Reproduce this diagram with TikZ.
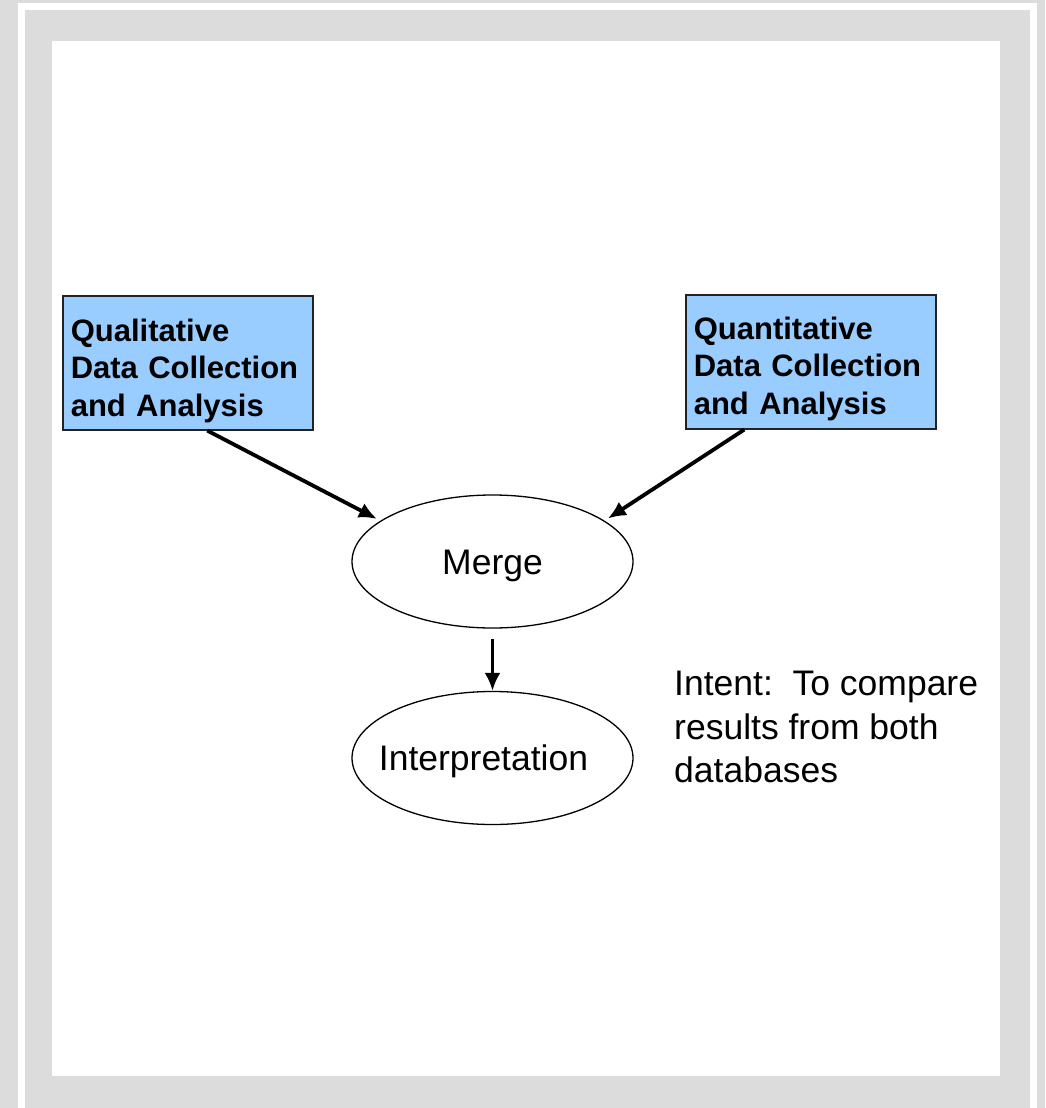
\documentclass[tikz,border=0pt]{standalone}
\usepackage{fontspec}
\setmainfont{Liberation Sans}
\usetikzlibrary{arrows.meta,shapes.geometric}
\definecolor{framegray}{HTML}{DCDCDC}
\definecolor{boxblue}{HTML}{99CCFF}
\definecolor{boxline}{HTML}{222222}
\tikzset{
  databox/.style={draw=boxline, line width=1.6pt, fill=boxblue, rectangle,
    anchor=north west, minimum width=250pt, minimum height=134pt,
    text width=234pt, inner xsep=8pt, inner ysep=0pt, align=left,
    font=\fontsize{31}{37.5}\selectfont\bfseries},
  oval/.style={draw=black, line width=1.3pt, ellipse, minimum width=281pt,
    minimum height=133pt, inner sep=0pt, text height=28pt, text depth=3pt,
    font=\fontsize{35.5}{43.5}\selectfont},
  flow/.style={line width=3.8pt, -{Latex[length=18pt,width=16pt]}},
  note/.style={anchor=north west, inner sep=0pt, align=left,
    font=\fontsize{35.5}{43.5}\selectfont}
}
\begin{document}
\begin{tikzpicture}[x=1pt,y=-1pt]
\useasboundingbox (0,0) rectangle (1045,1108);
\fill[framegray] (0,0) rectangle (1045,1108);
\draw[white, line width=7pt] (21.5,6.5) rectangle (1033.5,1130);
\fill[white] (52,41) rectangle (1000,1076);

\node[databox] (qual) at (62,295) {\rule{0pt}{38pt}Qualitative\\Data Collection\\and Analysis};
\node[databox] (quant) at (685,294) {\rule{0pt}{36pt}Quantitative\\Data Collection\\and Analysis};

\node[oval] (merge) at (492.5,561.5) {\makebox[0pt]{Merge}};
\node[oval] (interp) at (492.5,758) {\makebox[0pt]{\kern-18pt Interpretation}};

\node[note] (intent) at (674,671) {Intent:\ \ To compare\\results from both\\databases};

\draw[flow, shorten >=4pt] ([xshift=19.5pt]qual.south) -- (merge.160);
\draw[flow, shorten >=4pt] ([xshift=-66.5pt]quant.south) -- (merge.20);
\draw[flow, line width=3.4pt, shorten <=10pt] (merge.south) -- (interp.north);
\end{tikzpicture}
\end{document}
